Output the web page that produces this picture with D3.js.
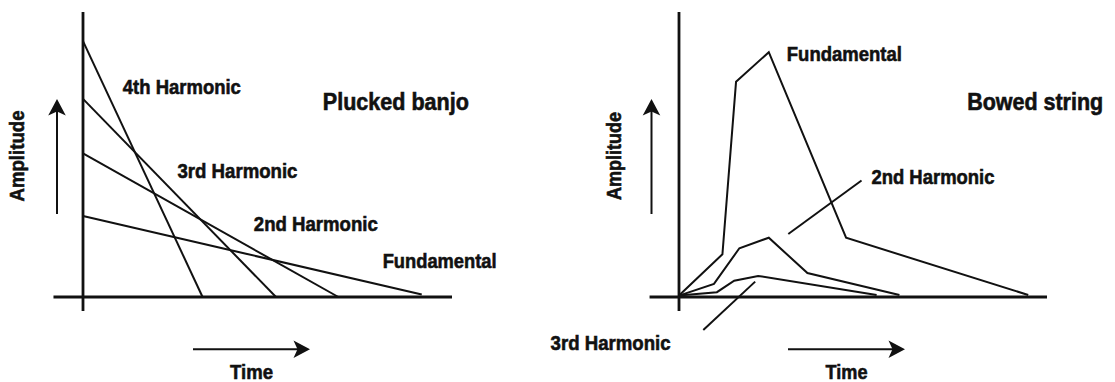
<!DOCTYPE html>
<html>
<head>
<meta charset="utf-8">
<script src="https://cdn.jsdelivr.net/npm/d3@7"></script>
<style>
  html, body { margin: 0; padding: 0; background: #fff; }
  svg { display: block; }
  text { font-family: "Liberation Sans Narrow", "Arial Narrow", "Liberation Sans", sans-serif; font-weight: bold; fill: #111; stroke: #111; stroke-width: 0.6; }
</style>
</head>
<body>
<svg id="chart" width="1115" height="382"></svg>
<script>
// ---------------- DATA ----------------
// Plucked banjo: each harmonic decays linearly from t=0
const pluckedSeries = ["4th Harmonic", "3rd Harmonic", "2nd Harmonic", "Fundamental"];
const pluckedTime   = [[0, 3.24], [0, 5.23], [0, 6.92], [0, 9.18]];
const pluckedAmp    = [[8.98, 0], [6.95, 0], [5.04, 0], [2.84, 0.09]];

// Bowed string: harmonics build up, then decay
const bowedSeries = ["Fundamental", "2nd Harmonic", "3rd Harmonic"];
const bowedTime   = [[0, 1.18, 1.55, 2.44, 4.54, 9.49],
                     [0, 0.95, 1.64, 2.44, 3.49, 5.99],
                     [0, 1.03, 1.50, 2.15, 5.37]];
const bowedAmp    = [[0.05, 1.50, 7.55, 8.59, 2.08, 0.07],
                     [0.05, 0.46, 1.71, 2.08, 0.84, 0.07],
                     [0.05, 0.17, 0.57, 0.74, 0.07]];

const chartTitles = ["Plucked banjo", "Bowed string"];
const xAxisLabel = "Time";
const yAxisLabel = "Amplitude";

// ---------------- LAYOUT ----------------
const svg = d3.select("#chart");
const ink = "#111";

const panels = [
  { x: d3.scaleLinear().domain([0, 10]).range([83, 452]),
    y: d3.scaleLinear().domain([0, 10]).range([297, 12]),
    series: pluckedSeries, time: pluckedTime, amp: pluckedAmp,
    title: chartTitles[0], titlePos: [6.50, 6.56], titleLen: 146,
    labels: [
      { t: 1.08, a: 7.12, len: 118, anchor: "start" },
      { t: 2.56, a: 4.19, len: 120, anchor: "start" },
      { t: 4.63, a: 2.33, len: 124, anchor: "start" },
      { t: 8.12, a: 1.01, len: 114, anchor: "start" }
    ],
    leaders: [],
    ampLabelX: 24, ampLen: 91, timeLabelX: 251.5, timeLen: 43,
    upArrowX: 57, timeArrow: [193, 310]
  },
  { x: d3.scaleLinear().domain([0, 10]).range([679, 1047]),
    y: d3.scaleLinear().domain([0, 10]).range([297, 12]),
    series: bowedSeries, time: bowedTime, amp: bowedAmp,
    title: chartTitles[1], titlePos: [7.83, 6.56], titleLen: 136,
    labels: [
      { t: 2.93, a: 8.28, len: 115, anchor: "start" },
      { t: 5.23, a: 3.96, len: 123, anchor: "start" },
      { t: -3.49, a: -1.86, len: 120, anchor: "start" }
    ],
    leaders: [null, [[2.97, 2.21], [4.96, 4.09]], [[2.07, 0.54], [0.66, -1.16]]],
    ampLabelX: 621, ampLen: 88, timeLabelX: 846.5, timeLen: 42,
    upArrowX: 651.5, timeArrow: [788, 905]
  }
];

function arrowHead(g, x, y, angleDeg) {
  g.append("path")
    .attr("d", "M0,0 L-16.5,-8.8 L-12.5,0 L-16.5,8.8 Z")
    .attr("transform", `translate(${x},${y}) rotate(${angleDeg})`)
    .attr("fill", ink);
}

panels.forEach(p => {
  const g = svg.append("g");
  const x = p.x, y = p.y;

  // axes
  g.append("line")
    .attr("x1", x(0)).attr("x2", x(0))
    .attr("y1", y(10)).attr("y2", y(-0.49))
    .attr("stroke", ink).attr("stroke-width", 2.8);
  g.append("line")
    .attr("x1", x(-0.8)).attr("x2", x(10))
    .attr("y1", y(0)).attr("y2", y(0))
    .attr("stroke", ink).attr("stroke-width", 2.8);

  // series lines
  const line = d3.line().x(d => x(d[0])).y(d => y(d[1]));
  p.series.forEach((name, i) => {
    const pts = p.time[i].map((t, j) => [t, p.amp[i][j]]);
    g.append("path")
      .attr("d", line(pts))
      .attr("fill", "none")
      .attr("stroke", ink)
      .attr("stroke-width", 2)
      .attr("stroke-linejoin", "miter");
  });

  // leader lines
  p.leaders.forEach(l => {
    if (!l) return;
    g.append("line")
      .attr("x1", x(l[0][0])).attr("y1", y(l[0][1]))
      .attr("x2", x(l[1][0])).attr("y2", y(l[1][1]))
      .attr("stroke", ink).attr("stroke-width", 2);
  });

  // series labels
  p.series.forEach((name, i) => {
    const lb = p.labels[i];
    g.append("text")
      .attr("x", x(lb.t)).attr("y", y(lb.a))
      .attr("font-size", 21)
      .attr("text-anchor", lb.anchor)
      .attr("textLength", lb.len)
      .attr("lengthAdjust", "spacingAndGlyphs")
      .text(name);
  });

  // title
  g.append("text")
    .attr("x", x(p.titlePos[0])).attr("y", y(p.titlePos[1]))
    .attr("font-size", 23)
    .attr("textLength", p.titleLen)
    .attr("lengthAdjust", "spacingAndGlyphs")
    .text(p.title);

  // amplitude arrow + label
  g.append("line")
    .attr("x1", p.upArrowX).attr("x2", p.upArrowX)
    .attr("y1", 214).attr("y2", 106)
    .attr("stroke", ink).attr("stroke-width", 2);
  arrowHead(g, p.upArrowX, 99, -90);
  g.append("text")
    .attr("transform", `translate(${p.ampLabelX},156) rotate(-90)`)
    .attr("text-anchor", "middle")
    .attr("font-size", 21)
    .attr("textLength", p.ampLen)
    .attr("lengthAdjust", "spacingAndGlyphs")
    .text(yAxisLabel);

  // time arrow + label
  g.append("line")
    .attr("x1", p.timeArrow[0]).attr("x2", p.timeArrow[1] - 6)
    .attr("y1", 349.3).attr("y2", 349.3)
    .attr("stroke", ink).attr("stroke-width", 2);
  arrowHead(g, p.timeArrow[1], 349.3, 0);
  g.append("text")
    .attr("x", p.timeLabelX).attr("y", 379)
    .attr("text-anchor", "middle")
    .attr("font-size", 21)
    .attr("textLength", p.timeLen)
    .attr("lengthAdjust", "spacingAndGlyphs")
    .text(xAxisLabel);
});
</script>
</body>
</html>
